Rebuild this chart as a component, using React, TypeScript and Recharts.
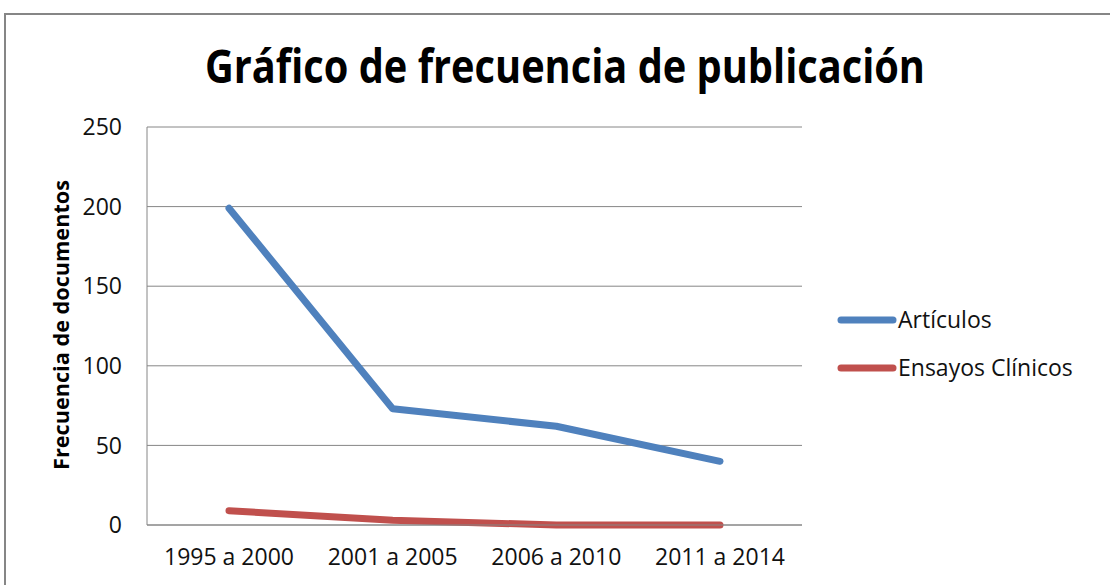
import { CartesianGrid, Line, LineChart, XAxis, YAxis } from "recharts"

const periods = ["1995 a 2000", "2001 a 2005", "2006 a 2010", "2011 a 2014"]
const articulos = [199, 73, 62, 40]
const ensayos = [9, 3, 0, 0]
const yTicks = [0, 50, 100, 150, 200, 250]

const series = [
  { key: "articulos", name: "Artículos", color: "#4F81BD" },
  { key: "ensayos", name: "Ensayos Clínicos", color: "#C0504D" },
]

const data = periods.map((p, i) => ({
  period: p,
  articulos: articulos[i],
  ensayos: ensayos[i],
}))

const font = "'Open Sans', sans-serif"

export default function App() {
  return (
    <div style={{ position: "fixed", left: 0, top: 0, width: 1110, height: 585, background: "#fff", overflow: "hidden", fontFamily: font }}>
      <LineChart width={1110} height={585} data={data} margin={{ top: 127, right: 308, bottom: 0, left: 0 }}>
        <CartesianGrid vertical={false} stroke="#868686" strokeWidth={1} />
        <XAxis
          dataKey="period"
          padding={{ left: 82, right: 82 }}
          height={60}
          stroke="#868686"
          tickLine={false}
          tickSize={0}
          tickMargin={24}
          tick={{ fill: "#111", fontSize: 23, fontFamily: font }}
        />
        <YAxis
          domain={[0, 250]}
          ticks={yTicks}
          width={147}
          stroke="#868686"
          tickLine={false}
          tickSize={0}
          tickMargin={25}
          tick={{ fill: "#111", fontSize: 23, fontFamily: font }}
        />
        {series.map((s) => (
          <Line
            key={s.key}
            dataKey={s.key}
            name={s.name}
            stroke={s.color}
            strokeWidth={7}
            strokeLinecap="round"
            strokeLinejoin="round"
            dot={false}
            isAnimationActive={false}
          />
        ))}
      </LineChart>
      <svg width={1110} height={585} style={{ position: "absolute", left: 0, top: 0, pointerEvents: "none" }}>
        <path d="M5 585 V14 H1110" fill="none" stroke="#868686" strokeWidth={2} />
        <text x={565} y={83} textAnchor="middle" fontFamily={font} fontWeight="bold" fontSize={46} textLength={720} lengthAdjust="spacingAndGlyphs" fill="#000">
          Gráfico de frecuencia de publicación
        </text>
        <text
          x={0}
          y={0}
          transform="translate(69 325) rotate(-90)"
          textAnchor="middle"
          fontFamily={font}
          fontWeight="bold"
          fontSize={22}
          textLength={290}
          lengthAdjust="spacingAndGlyphs"
          fill="#000"
        >
          Frecuencia de documentos
        </text>
        {series.map((s, i) => (
          <g key={s.key}>
            <line x1={841} x2={893} y1={320 + i * 48} y2={320 + i * 48} stroke={s.color} strokeWidth={7} strokeLinecap="round" />
            <text x={898} y={320 + i * 48} dy="0.36em" fontFamily={font} fontSize={23} fill="#111">
              {s.name}
            </text>
          </g>
        ))}
      </svg>
    </div>
  )
}
